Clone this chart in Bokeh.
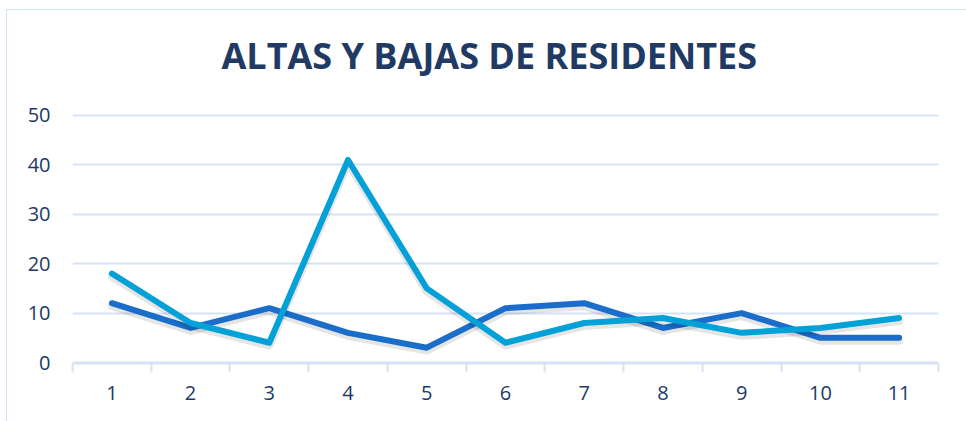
from bokeh.plotting import figure
from bokeh.models import Range1d, FixedTicker, ColumnDataSource, Title
from bokeh.embed import file_html
from bokeh.resources import INLINE

# ---- data ----
periodos = [1, 2, 3, 4, 5, 6, 7, 8, 9, 10, 11]
serie_oscura = [12, 7, 11, 6, 3, 11, 12, 7, 10, 5, 5]
serie_clara = [18, 8, 4, 41, 15, 4, 8, 9, 6, 7, 9]
y_ticks = [0, 10, 20, 30, 40, 50]
titulo = "ALTAS Y BAJAS DE RESIDENTES"

DARK = "#1a6dc8"
LIGHT = "#04a1d8"
NAVY = "#203a63"
GRID = "#d5e3f4"

p = figure(width=959, height=411, output_backend="svg", toolbar_location=None,
           x_range=Range1d(0.5, 11.5), y_range=Range1d(-0.2, 50.4),
           min_border_left=65, min_border_right=28, min_border_top=103, min_border_bottom=58)
p.margin = (10, 0, 0, 7)
p.styles = {"outline": "1.5px solid #cfe1f4"}
p.outline_line_color = None
p.background_fill_color = "white"
p.border_fill_color = "white"

p.title.text = titulo
p.title.align = "left"
p.title.vertical_align = "top"
p.title.text_font = "Open Sans"
p.title.text_font_style = "bold"
p.title.text_font_size = "36px"
p.title.text_color = NAVY
p.title.offset = 149
p.title.standoff = 37

# thin invisible spacer between the title and the plot area
p.add_layout(Title(text=" ", text_font_size="1px", standoff=10), "above")

# axes
p.yaxis.ticker = FixedTicker(ticks=y_ticks)
p.yaxis.axis_line_color = None
p.yaxis.major_tick_line_color = None
p.yaxis.minor_tick_line_color = None
p.yaxis.major_label_standoff = 16
p.yaxis.major_label_text_font = "Open Sans"
p.yaxis.major_label_text_font_size = "20px"
p.yaxis.major_label_text_color = NAVY

p.xaxis.ticker = FixedTicker(ticks=periodos, minor_ticks=[i + 0.5 for i in range(0, 12)])
p.xaxis.axis_line_color = GRID
p.xaxis.axis_line_width = 2
p.xaxis.major_tick_line_color = None
p.xaxis.major_tick_out = 0
p.xaxis.minor_tick_line_color = GRID
p.xaxis.minor_tick_line_width = 2
p.xaxis.minor_tick_out = 9
p.xaxis.minor_tick_in = 0
p.xaxis.major_label_standoff = 13
p.xaxis.major_label_text_font = "Open Sans"
p.xaxis.major_label_text_font_size = "20px"
p.xaxis.major_label_text_color = NAVY

p.xgrid.grid_line_color = None
p.ygrid.ticker = FixedTicker(ticks=y_ticks)
p.ygrid.grid_line_color = GRID
p.ygrid.grid_line_width = 2

src = ColumnDataSource(dict(x=periodos, a=serie_oscura, b=serie_clara,
                            a_s=[v - 0.6 for v in serie_oscura],
                            b_s=[v - 0.6 for v in serie_clara]))

# soft shadows
p.line("x", "a_s", source=src, line_width=8, line_color="black", line_alpha=0.10,
       line_cap="round", line_join="round")
p.line("x", "a", source=src, line_width=6, line_color=DARK, line_cap="round", line_join="round")
p.line("x", "b_s", source=src, line_width=8, line_color="black", line_alpha=0.10,
       line_cap="round", line_join="round")
p.line("x", "b", source=src, line_width=6, line_color=LIGHT, line_cap="round", line_join="round")

open("out.html", "w").write(file_html(p, INLINE))
